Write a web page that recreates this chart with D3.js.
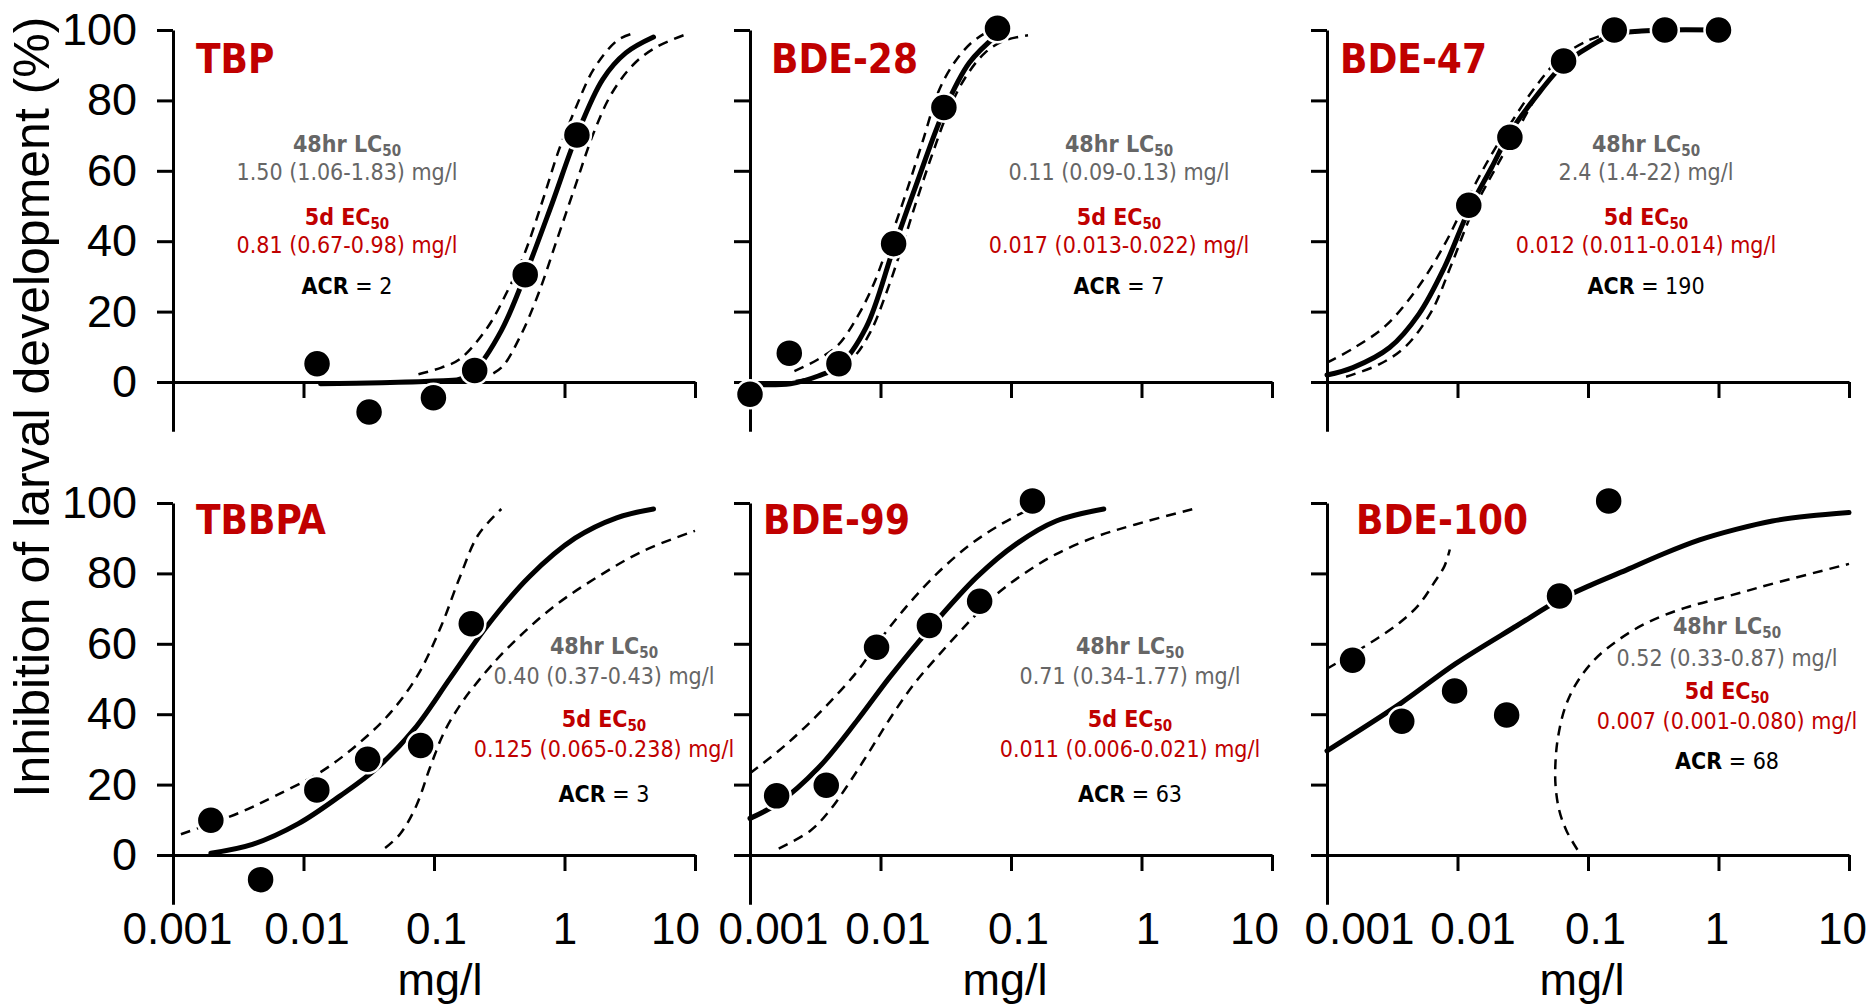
<!DOCTYPE html>
<meta charset="utf-8" />
<script src="https://d3js.org/d3.v7.min.js"></script>
<style>
  body { margin: 0; background: #fff; }
</style>
<body>
<div id="chart"></div>
<script>
// ---------- data ----------
const xTicks = [0.001, 0.01, 0.1, 1, 10];
const yTicks = [0, 20, 40, 60, 80, 100];

const compounds = ["TBP", "BDE-28", "BDE-47", "TBBPA", "BDE-99", "BDE-100"];
const lc50Labels = ["1.50 (1.06-1.83) mg/l", "0.11 (0.09-0.13) mg/l", "2.4 (1.4-22) mg/l",
                    "0.40 (0.37-0.43) mg/l", "0.71 (0.34-1.77) mg/l", "0.52 (0.33-0.87) mg/l"];
const ec50Labels = ["0.81 (0.67-0.98) mg/l", "0.017 (0.013-0.022) mg/l", "0.012 (0.011-0.014) mg/l",
                    "0.125 (0.065-0.238) mg/l", "0.011 (0.006-0.021) mg/l", "0.007 (0.001-0.080) mg/l"];
const acrValues = ["2", "7", "190", "3", "63", "68"];

// TBP
const doseTBP = [0.0127, 0.0318, 0.099, 0.205, 0.50, 1.245];
const respTBP = [5.2, -8.5, -4.5, 3.3, 30.5, 70.2];
const fitTBP = [[0.0135,-0.5],[0.0398,-0.2],[0.1,0.3],[0.158,0.8],[0.205,3.3],[0.328,14.6],[0.501,30.5],[0.803,50.7],[1.245,70.2],[1.963,86],[2.95,93.5],[4.81,98]];
const upperTBP = [[0.076,2.2],[0.114,4.1],[0.158,6.5],[0.257,15.5],[0.356,25],[0.493,36.4],[0.682,51.7],[0.908,66],[1.205,77.4],[1.67,88.8],[2.51,96.9],[3.2,98.8]];
const lowerTBP = [[0.218,0.3],[0.328,4.1],[0.454,12.7],[0.63,25],[0.871,40.2],[1.205,55.5],[1.67,70.7],[2.31,82.1],[3.48,90.7],[5.21,95.4],[8.17,98.5]];

// BDE-28
const dose28 = [0.001, 0.002, 0.0048, 0.0126, 0.0306, 0.0788];
const resp28 = [-3.5, 8.2, 5.2, 39.3, 78.0, 100.5];
const fit28 = [[0.001,-0.7],[0.00204,-0.5],[0.00333,1.7],[0.00483,4.6],[0.00776,15.5],[0.0126,38],[0.0192,57],[0.0306,77],[0.0479,90.7],[0.0794,98.8]];
const upper28 = [[0.00219,3.1],[0.00331,6.4],[0.00473,10.5],[0.00676,19],[0.00891,28],[0.0117,40],[0.0158,54],[0.0209,68],[0.0282,83],[0.0372,91],[0.0501,96.5],[0.0661,99.5]];
const lower28 = [[0.00224,0.3],[0.00398,2.5],[0.00603,6.5],[0.00832,14],[0.011,25],[0.0145,38],[0.0191,52],[0.0251,65],[0.0331,77],[0.0447,86.5],[0.0631,93.5],[0.0891,97],[0.135,98.5]];

// BDE-47
const dose47 = [0.0122, 0.0252, 0.065, 0.159, 0.388, 1.0];
const resp47 = [50.2, 69.5, 91.2, 100, 100, 100];
const fit47 = [[0.001,2],[0.00158,4.1],[0.00302,9.8],[0.00506,19.3],[0.00794,32.6],[0.0122,48.8],[0.0183,61],[0.0251,70.7],[0.0398,81],[0.065,90.2],[0.104,95.4],[0.158,98.8],[0.257,99.7],[0.389,100],[1,100]];
const upper47 = [[0.001,5.5],[0.00158,9.5],[0.00282,16],[0.00501,27],[0.00794,39],[0.0112,50],[0.0166,62],[0.0251,73],[0.0398,84],[0.0631,92.5],[0.1,97],[0.141,99]];
const lower47 = [[0.0014,1.5],[0.00251,5],[0.00398,10],[0.00631,20],[0.00891,33],[0.0129,48],[0.0191,60],[0.0282,71],[0.0447,83.5],[0.0708,91],[0.112,96],[0.158,98.8]];

// TBBPA
const doseTBBPA = [0.00195, 0.00469, 0.01265, 0.031, 0.079, 0.193];
const respTBBPA = [9.9, -7.0, 18.5, 27.2, 31.1, 65.7];
const fitTBBPA = [[0.00195,0.5],[0.00406,3],[0.00914,8.9],[0.0191,16.8],[0.0365,24.7],[0.07,35.6],[0.134,50.4],[0.257,65.2],[0.535,79],[1.205,90],[2.51,95.8],[4.81,98.3]];
const upperTBBPA = [[0.00115,5.9],[0.00318,11.9],[0.00608,16.8],[0.0137,23.7],[0.0263,31.6],[0.0466,40.5],[0.0759,51.4],[0.114,65.2],[0.158,79],[0.218,90.9],[0.328,98.3]];
const lowerTBBPA = [[0.0422,2.0],[0.0548,5.9],[0.0728,13.8],[0.0929,24.7],[0.1186,34.6],[0.158,42.5],[0.218,49.4],[0.356,58.3],[0.803,70.2],[1.81,79.1],[4.08,86.5],[10,92.1]];

// BDE-99
const dose99 = [0.0016, 0.00384, 0.00933, 0.0237, 0.0575, 0.146];
const resp99 = [16.8, 19.8, 59.0, 65.2, 72.1, 100.6];
const fit99 = [[0.001,10.4],[0.00166,14.8],[0.00333,24.7],[0.00671,38.5],[0.0117,50.4],[0.0237,64.2],[0.0548,79],[0.11,88.4],[0.222,94.9],[0.514,98.3]];
const upper99 = [[0.001,23.2],[0.00166,29.6],[0.00252,35.6],[0.00411,43.5],[0.00671,52.4],[0.00953,60.3],[0.0155,70.2],[0.0272,80],[0.0476,87.9],[0.0834,93.9],[0.157,99.3]];
const lower99 = [[0.00166,1.8],[0.0029,6.9],[0.00411,12.8],[0.00583,20.8],[0.00828,29.6],[0.0117,38.5],[0.0179,48.4],[0.0272,56.3],[0.0476,66.2],[0.0778,74.1],[0.127,80],[0.222,85.5],[0.447,90.4],[0.9,93.9],[2.48,98.3]];

// BDE-100
const dose100 = [0.00157, 0.00374, 0.0095, 0.0238, 0.0605, 0.144];
const resp100 = [55.3, 38.0, 46.6, 39.8, 73.6, 100.6];
const fit100 = [[0.001,29.6],[0.00374,43.3],[0.00962,54.3],[0.0287,65.2],[0.0605,72.5],[0.104,76.6],[0.198,81],[0.376,85.5],[0.716,89.5],[1.36,92.5],[2.59,94.9],[4.93,96.3],[10,97.3]];
const upper100 = [[0.001,52.9],[0.00159,57.3],[0.00249,61.8],[0.00366,66.2],[0.00506,71.1],[0.00655,77.1],[0.00793,82],[0.00873,86.8]];
const lower100 = [[0.083,1.5],[0.0684,6.9],[0.0601,12.8],[0.0564,19.8],[0.0564,26.7],[0.059,33.6],[0.0662,41.5],[0.0804,48.4],[0.111,55.3],[0.174,61.3],[0.291,66.2],[0.553,70.2],[1.2,73.6],[2.94,77.6],[10,82.7]];

const doses = [doseTBP, dose28, dose47, doseTBBPA, dose99, dose100];
const resps = [respTBP, resp28, resp47, respTBBPA, resp99, resp100];
const fits = [fitTBP, fit28, fit47, fitTBBPA, fit99, fit100];
const uppers = [upperTBP, upper28, upper47, upperTBBPA, upper99, upper100];
const lowers = [lowerTBP, lower28, lower47, lowerTBBPA, lower99, lower100];

// ---------- layout ----------
const W = 1870, H = 1004;
const colX = [173, 750, 1327], panelW = 522;
const rowTop = [30, 503], panelH = 352; // pixel span of 0..100 %
const yMin = -14;
const red = "#c00000", grey = "#666666";
const condensed = "'DejaVu Sans Condensed', 'DejaVu Sans', sans-serif";
const arial = "'Liberation Sans', Arial, sans-serif";

// hand-placed bits of the original layout
const titleX = [196, 771, 1340, 196, 763, 1356];
const titleY = [73, 73, 73, 534, 534, 534];
const noteX = [347, 1119, 1646, 604, 1130, 1727];
const noteY = [
  [144, 172, 217, 245, 286],
  [144, 172, 217, 245, 286],
  [144, 172, 217, 245, 286],
  [646, 676, 719, 749, 794],
  [646, 676, 719, 749, 794],
  [626, 658, 691, 721, 761]
];
const labelShift = [[4, 3, 2, 0, -20], [23, 7, 7, 6, -18], [32, 15, 7, -2, -7]];
const unitX = [440, 1005, 1582];

const svg = d3.select("#chart").append("svg")
  .attr("width", W).attr("height", H);
svg.append("rect").attr("width", W).attr("height", H).attr("fill", "#fff");

compounds.forEach(function (name, i) {
  const col = i % 3, row = Math.floor(i / 3);
  const x0 = colX[col], top = rowTop[row];

  const x = d3.scaleLog().domain([0.001, 10]).range([x0, x0 + panelW]);
  const y = d3.scaleLinear().domain([yMin, 100])
    .range([top + panelH * (100 - yMin) / 100, top]);

  // y axis
  const gy = svg.append("g")
    .attr("transform", "translate(" + x0 + ",0)")
    .call(d3.axisLeft(y).tickValues(yTicks).tickSize(16).tickSizeOuter(0)
      .tickPadding(20).tickFormat(col === 0 ? d3.format("d") : () => ""));
  gy.selectAll("path, line").attr("stroke", "#000").attr("stroke-width", 3);
  gy.selectAll("text").attr("font-family", arial).attr("font-size", 45).attr("fill", "#000");

  // x axis
  const gx = svg.append("g")
    .attr("transform", "translate(0," + y(0) + ")")
    .call(d3.axisBottom(x).tickValues(xTicks).tickSize(16).tickSizeOuter(0)
      .tickPadding(42).tickFormat(row === 1 ? (d) => String(d) : () => ""));
  gx.selectAll("path, line").attr("stroke", "#000").attr("stroke-width", 3);
  gx.selectAll(".tick text")
    .attr("font-family", arial).attr("font-size", 44).attr("fill", "#000")
    .attr("dx", (d, k) => labelShift[col][k]);

  if (row === 1) {
    svg.append("text")
      .attr("x", unitX[col]).attr("y", 995)
      .attr("text-anchor", "middle")
      .attr("font-family", arial).attr("font-size", 45)
      .text("mg/l");
  }

  // curves
  const line = d3.line()
    .x((d) => x(d[0]))
    .y((d) => y(d[1]))
    .curve(d3.curveCatmullRom.alpha(0.5));

  [uppers[i], lowers[i]].forEach(function (band) {
    svg.append("path")
      .attr("d", line(band))
      .attr("fill", "none")
      .attr("stroke", "#000")
      .attr("stroke-width", 2.5)
      .attr("stroke-dasharray", "10,7");
  });
  svg.append("path")
    .attr("d", line(fits[i]))
    .attr("fill", "none")
    .attr("stroke", "#000")
    .attr("stroke-width", 5)
    .attr("stroke-linecap", "round");

  // measured points
  svg.append("g").selectAll("circle")
    .data(doses[i].map((d, k) => [d, resps[i][k]]))
    .join("circle")
    .attr("cx", (d) => x(d[0]))
    .attr("cy", (d) => y(d[1]))
    .attr("r", 14)
    .attr("fill", "#000")
    .attr("stroke", "#fff")
    .attr("stroke-width", 2.5);

  // panel title
  svg.append("text")
    .attr("x", titleX[i]).attr("y", titleY[i])
    .attr("font-family", condensed).attr("font-stretch", "condensed")
    .attr("font-weight", "bold").attr("font-size", 40)
    .attr("fill", red)
    .text(name);

  // LC50 / EC50 / ACR notes
  const ny = noteY[i], cx = noteX[i];
  const note = svg.append("g")
    .attr("font-family", condensed).attr("font-stretch", "condensed")
    .attr("font-size", 23).attr("text-anchor", "middle");

  const lc = note.append("text").attr("x", cx).attr("y", ny[0]).attr("dy", "0.35em")
    .attr("fill", grey).attr("font-weight", "bold");
  lc.append("tspan").text("48hr LC");
  lc.append("tspan").attr("font-size", 15).attr("dy", 4).text("50");
  note.append("text").attr("x", cx).attr("y", ny[1]).attr("dy", "0.35em")
    .attr("fill", grey).text(lc50Labels[i]);

  const ec = note.append("text").attr("x", cx).attr("y", ny[2]).attr("dy", "0.35em")
    .attr("fill", red).attr("font-weight", "bold");
  ec.append("tspan").text("5d EC");
  ec.append("tspan").attr("font-size", 15).attr("dy", 4).text("50");
  note.append("text").attr("x", cx).attr("y", ny[3]).attr("dy", "0.35em")
    .attr("fill", red).text(ec50Labels[i]);

  const acr = note.append("text").attr("x", cx).attr("y", ny[4]).attr("dy", "0.35em")
    .attr("fill", "#000");
  acr.append("tspan").attr("font-weight", "bold").text("ACR");
  acr.append("tspan").text(" = " + acrValues[i]);
});

// shared y title
svg.append("text")
  .attr("transform", "translate(32,407) rotate(-90)")
  .attr("text-anchor", "middle")
  .attr("dominant-baseline", "central")
  .attr("font-family", arial).attr("font-size", 50)
  .text("Inhibition of larval development (%)");
</script>
</body>
